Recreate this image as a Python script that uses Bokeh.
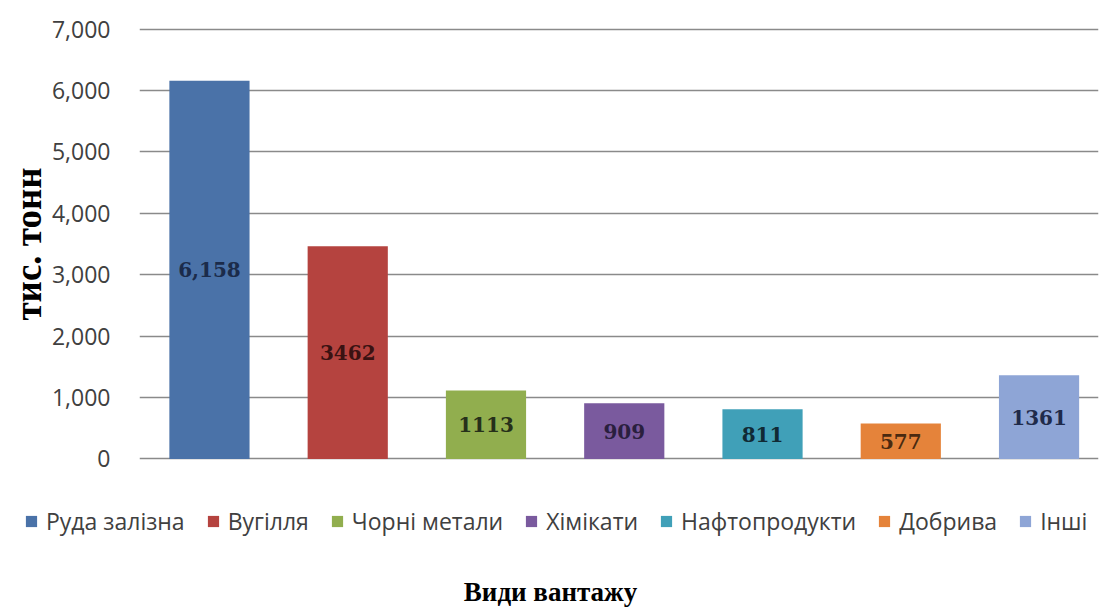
from bokeh.plotting import figure
from bokeh.layouts import column
from bokeh.models import (ColumnDataSource, Range1d, Legend, LegendItem, Label,
                          NumeralTickFormatter, FixedTicker)
from bokeh.core.properties import value, field
from bokeh.embed import file_html
from bokeh.resources import INLINE

categories = ["Руда залізна", "Вугілля", "Чорні метали", "Хімікати", "Нафтопродукти", "Добрива", "Інші"]
values = [6158, 3462, 1113, 909, 811, 577, 1361]
value_labels = ["6,158", "3462", "1113", "909", "811", "577", "1361"]
colors = ["#4A72A8", "#B5433F", "#91AE4E", "#7A5A9E", "#40A0B8", "#E5833A", "#8EA5D6"]
label_colors = ["#1B2B4A", "#3A1212", "#26301A", "#2A1F3E", "#102A35", "#4A2A10", "#1F2A4A"]
y_ticks = [0, 1000, 2000, 3000, 4000, 5000, 6000, 7000]
y_title = "тис. тонн"
x_title = "Види вантажу"

xs = list(range(1, len(categories) + 1))
src = ColumnDataSource(dict(x=xs, top=values, cat=categories, color=colors,
                            mid=[v / 2 for v in values], lab=value_labels, lcol=label_colors))

# ---- main chart ----
p = figure(width=1100, height=474, output_backend="svg", toolbar_location=None,
           x_range=Range1d(0.494, 7.43), y_range=Range1d(-25, 7025),
           x_axis_location=None,
           min_border_left=139, min_border_right=2, min_border_top=27, min_border_bottom=14)
p.outline_line_color = None
p.frame_align = False

p.vbar(x="x", top="top", width=0.58, bottom=0, fill_color="color", line_color=None, source=src)
p.text(x="x", y="mid", text="lab", text_color="lcol", source=src,
       text_font=value("DejaVu Serif"), text_font_style="bold", text_font_size="20px",
       text_align="center", text_baseline="middle")

p.xgrid.grid_line_color = None
p.ygrid.ticker = FixedTicker(ticks=y_ticks)
p.ygrid.grid_line_color = "#8A8A8A"
p.ygrid.grid_line_width = 1.7
p.yaxis.ticker = FixedTicker(ticks=y_ticks)
p.yaxis.formatter = NumeralTickFormatter(format="0,0")
p.yaxis.axis_line_color = None
p.yaxis.major_tick_line_color = None
p.yaxis.minor_tick_line_color = None
p.yaxis.major_tick_out = 0
p.yaxis.major_tick_in = 0
p.yaxis.major_label_standoff = 29
p.yaxis.major_label_text_font = "Open Sans"
p.yaxis.major_label_text_font_size = "23px"
p.yaxis.major_label_text_color = "#404040"
p.yaxis.axis_label = y_title
p.yaxis.axis_label_text_font = "Liberation Serif"
p.yaxis.axis_label_text_font_style = "bold"
p.yaxis.axis_label_text_font_size = "37px"
p.yaxis.axis_label_text_color = "#000000"
p.yaxis.axis_label_standoff = 0

# ---- legend + category title strip ----
p2 = figure(width=1100, height=134, output_backend="svg", toolbar_location=None,
            x_range=Range1d(0, 1100), y_range=Range1d(0, 134),
            x_axis_location=None, y_axis_location=None,
            min_border_left=0, min_border_right=0, min_border_top=0, min_border_bottom=0)
p2.outline_line_color = None
p2.frame_align = False
p2.xgrid.grid_line_color = None
p2.ygrid.grid_line_color = None
# legend swatches: same bars, mapped onto ranges that keep them out of this strip's view
p2.extra_x_ranges = {"swatch": Range1d(1000, 2000)}
p2.extra_y_ranges = {"swatch": Range1d(100000, 200000)}
r2 = p2.vbar(x="x", top="top", width=0.58, bottom=0, fill_color="color", line_color=None,
             source=src, x_range_name="swatch", y_range_name="swatch")

legend = Legend(items=[LegendItem(label=field("cat"), renderers=[r2])],
                orientation="horizontal", location=(24, 71),
                label_text_font="Open Sans", label_text_font_size="23px",
                label_text_color="#404040", glyph_width=14, glyph_height=14,
                spacing=21, label_standoff=8, padding=4, margin=0,
                border_line_color=None, background_fill_alpha=0)
p2.add_layout(legend, "center")

p2.add_layout(Label(x=550, y=17, text=x_title, text_align="center", text_baseline="middle",
                    text_font="Liberation Serif", text_font_style="bold",
                    text_font_size="27px", text_color="#000000"))

layout = column(p, p2, spacing=0)
open("out.html", "w").write(file_html(layout, INLINE))
